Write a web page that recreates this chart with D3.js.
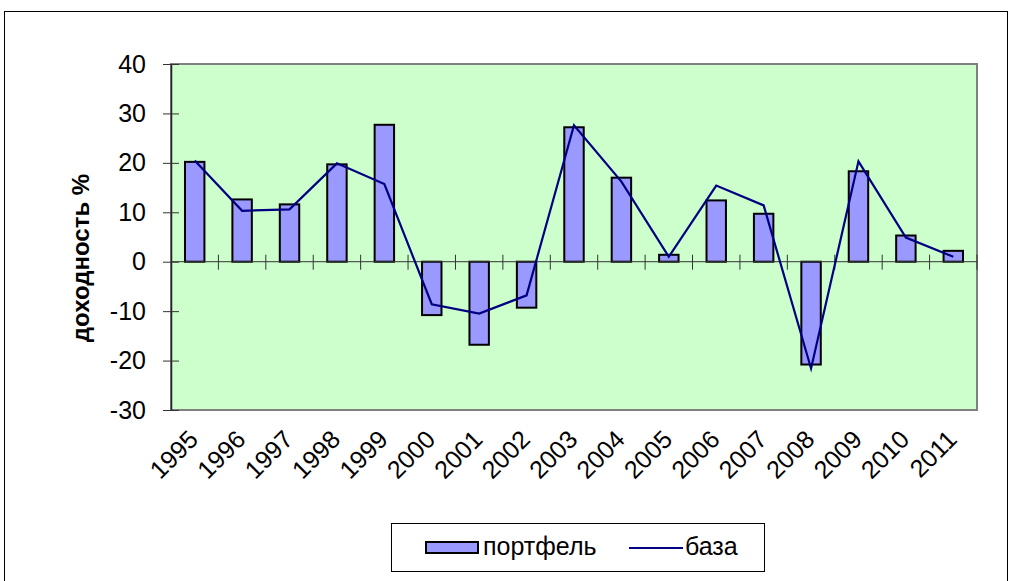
<!DOCTYPE html>
<html><head><meta charset="utf-8">
<script src="https://cdn.jsdelivr.net/npm/d3@7"></script>
<style>body{margin:0;background:#fff}svg{display:block}text{font-family:"Liberation Sans",Arial,sans-serif}</style>
</head><body>
<script>
const years = ["1995","1996","1997","1998","1999","2000","2001","2002","2003","2004","2005","2006","2007","2008","2009","2010","2011"];
const portfolio = [20.2,12.6,11.6,19.7,27.7,-10.8,-16.8,-9.3,27.2,17.0,1.4,12.4,9.7,-20.8,18.3,5.3,2.2];
const base = [20.5,10.3,10.6,19.9,15.7,-8.6,-10.5,-6.8,27.6,16.2,1.0,15.4,11.4,-21.6,20.3,4.9,1.0];
const yTicks = [-30,-20,-10,0,10,20,30,40];
const seriesNames = ["портфель","база"];
const yTitle = "доходность %";

const W=1010,H=581;
const svg=d3.select("body").append("svg").attr("width",W).attr("height",H);
// outer frame
svg.append("rect").attr("x",4.5).attr("y",11.5).attr("width",1003).attr("height",H).attr("fill","none").attr("stroke","#000").attr("stroke-width",1);

const L=171,R=977,T=64,B=410;
const x=d3.scaleBand().domain(years).range([L,R]).paddingInner(0.59).paddingOuter(0.295);
const xb=d3.scaleBand().domain(years).range([L,R]);
const y=d3.scaleLinear().domain([-30,40]).range([B,T]);

svg.append("rect").attr("x",L).attr("y",T).attr("width",R-L).attr("height",B-T).attr("fill","#CCFFCC").attr("stroke","#808080").attr("stroke-width",2);

// bars
svg.selectAll("rect.bar").data(years).join("rect").attr("class","bar")
 .attr("x",d=>x(d)).attr("width",x.bandwidth())
 .attr("y",(d,i)=>y(Math.max(0,portfolio[i])))
 .attr("height",(d,i)=>Math.abs(y(portfolio[i])-y(0)))
 .attr("fill","#9999FF").attr("stroke","#000").attr("stroke-width",2);

// zero axis with crossing ticks
const g0=svg.append("g").attr("transform",`translate(0,${y(0)})`);
g0.append("line").attr("x1",L).attr("x2",R).attr("stroke","#333").attr("stroke-width",1);
g0.selectAll("line.t").data(years).join("line").attr("class","t")
 .attr("x1",(d,i)=>L+xb.step()*(i+1)).attr("x2",(d,i)=>L+xb.step()*(i+1))
 .attr("y1",-7).attr("y2",8).attr("stroke","#333").attr("stroke-width",1);

// line
const line=d3.line().x((d,i)=>xb(years[i])+xb.bandwidth()/2).y(d=>y(d));
svg.append("path").datum(base).attr("d",line).attr("fill","none").attr("stroke","#000080").attr("stroke-width",2.2);

// y axis
const ya=d3.axisLeft(y).tickValues(yTicks).tickSize(0).tickPadding(25).tickFormat(d=>String(d));
const gy=svg.append("g").attr("transform",`translate(${L},0)`).call(ya);
gy.attr("font-size",null).attr("font-family",null);
gy.select(".domain").attr("stroke","#222").attr("stroke-width",1.5);
gy.selectAll("text").attr("font-size",25).attr("fill","#000");
gy.selectAll(".tick").append("line").attr("x1",-8).attr("x2",8).attr("stroke","#333");

// x labels
svg.selectAll("text.xl").data(years).join("text").attr("class","xl")
 .attr("transform",d=>`translate(${xb(d)+xb.bandwidth()/2+5},${441}) rotate(-45)`)
 .attr("text-anchor","end").attr("font-size",25).text(d=>d);

// y title
svg.append("text").attr("transform",`translate(89,258) rotate(-90)`).attr("text-anchor","middle")
 .attr("font-size",24).attr("font-weight","bold").text(yTitle);

// legend
svg.append("rect").attr("x",391.5).attr("y",523.5).attr("width",373).attr("height",48).attr("fill","#fff").attr("stroke","#000");
svg.append("rect").attr("x",426).attr("y",542).attr("width",52).attr("height",11).attr("fill","#9999FF").attr("stroke","#000").attr("stroke-width",2);
svg.append("text").attr("x",483).attr("y",555).attr("font-size",25).text(seriesNames[0]);
svg.append("line").attr("x1",629).attr("x2",683).attr("y1",548).attr("y2",548).attr("stroke","#000080").attr("stroke-width",2);
svg.append("text").attr("x",685).attr("y",555).attr("font-size",25).text(seriesNames[1]);
</script>
</body></html>
